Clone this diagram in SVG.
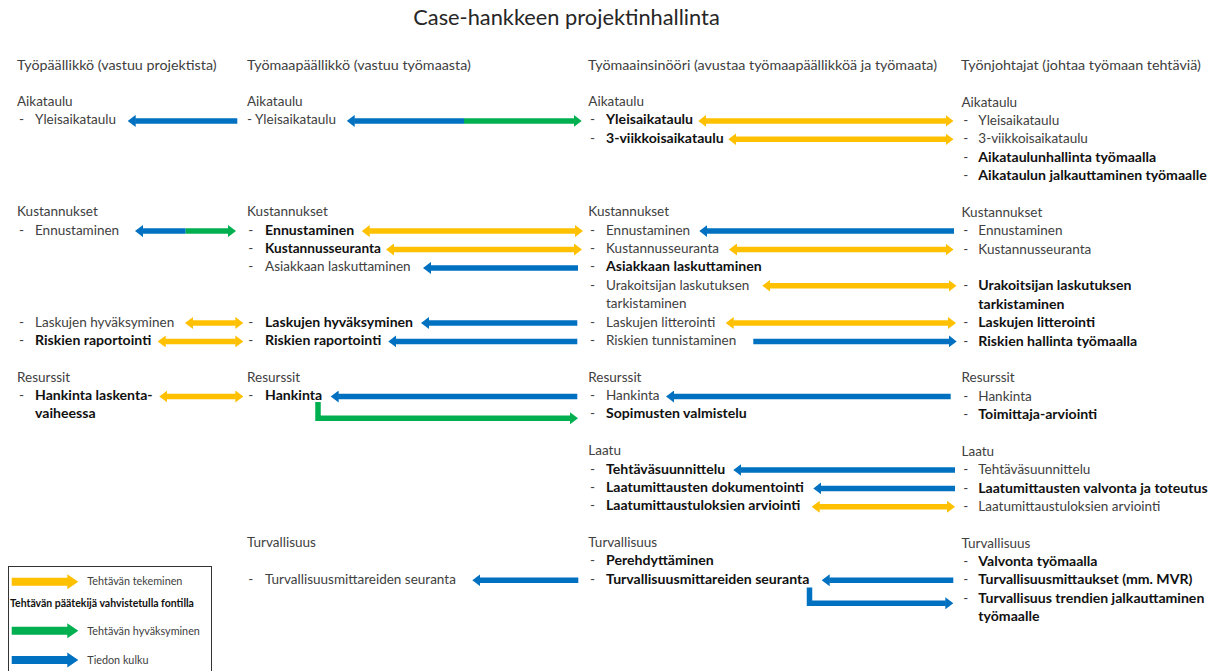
<svg xmlns="http://www.w3.org/2000/svg" width="1225" height="671" viewBox="0 0 1225 671">
<style>
text{font-family:Lato,"Liberation Sans",sans-serif;font-size:13.5px;fill:#404040}
.b{font-weight:bold;fill:#111;font-size:14.1px}
.h{font-size:14.3px}
.title{font-size:21.8px;fill:#262626}
.lg{font-size:10.8px}
.lgb{font-size:10.5px;font-weight:bold;fill:#111}
.cy{stroke:#FFC000;stroke-width:5.5;fill:none}
.cb{stroke:#0070C0;stroke-width:5.5;fill:none}
.cg{stroke:#00B050;stroke-width:5.5;fill:none}
.ay{marker-start:url(#hy);marker-end:url(#hy)}
.ab{marker-end:url(#hb)}
.ag{marker-end:url(#hg)}
.fy{fill:#FFC000}.fb{fill:#0070C0}.fg{fill:#00B050}
</style>
<defs>
<marker id="hy" viewBox="0 0 8 12" refX="0.5" refY="6" markerWidth="8" markerHeight="12" markerUnits="userSpaceOnUse" orient="auto-start-reverse"><path d="M0,0 L8,6 L0,12 Z" fill="#FFC000"/></marker>
<marker id="hb" viewBox="0 0 8 12" refX="0.5" refY="6" markerWidth="8" markerHeight="12" markerUnits="userSpaceOnUse" orient="auto-start-reverse"><path d="M0,0 L8,6 L0,12 Z" fill="#0070C0"/></marker>
<marker id="hg" viewBox="0 0 8 12" refX="0.5" refY="6" markerWidth="8" markerHeight="12" markerUnits="userSpaceOnUse" orient="auto-start-reverse"><path d="M0,0 L8,6 L0,12 Z" fill="#00B050"/></marker>
</defs>
<rect width="1225" height="671" fill="#fff"/>
<text class="title" x="566.5" y="25" text-anchor="middle">Case-hankkeen projektinhallinta</text>

<g id="col1">
<text class="h" x="17" y="70">Työpäällikkö (vastuu projektista)</text>
<g id="c1-aikataulu"><text x="17" y="106">Aikataulu</text><text x="19" y="124.4">-</text><text x="35" y="124.4">Yleisaikataulu</text></g>
<g id="c1-kustannukset"><text x="17" y="216.3">Kustannukset</text><text x="19" y="234.6">-</text><text x="35" y="234.6">Ennustaminen</text>
<text x="19" y="326.5">-</text><text x="35" y="326.5">Laskujen hyväksyminen</text>
<text x="19" y="344.9">-</text><text class="b" x="35" y="344.9">Riskien raportointi</text></g>
<g id="c1-resurssit"><text x="17" y="381.6">Resurssit</text><text x="19" y="400">-</text><text class="b" x="35" y="400">Hankinta laskenta-</text><text class="b" x="35" y="418.4">vaiheessa</text></g>
</g>

<g id="col2">
<text class="h" x="247" y="70">Työmaapäällikkö (vastuu työmaasta)</text>
<g id="c2-aikataulu"><text x="247" y="106">Aikataulu</text><text x="247" y="124.4">- Yleisaikataulu</text></g>
<g id="c2-kustannukset"><text x="247" y="216.3">Kustannukset</text>
<text x="248.3" y="234.6">-</text><text class="b" x="265" y="234.6">Ennustaminen</text>
<text x="248.3" y="253">-</text><text class="b" x="265" y="253" textLength="116" lengthAdjust="spacingAndGlyphs">Kustannusseuranta</text>
<text x="248.3" y="271.4">-</text><text x="265" y="271.4">Asiakkaan laskuttaminen</text>
<text x="248.3" y="326.5">-</text><text class="b" x="265" y="326.5">Laskujen hyväksyminen</text>
<text x="248.3" y="344.9">-</text><text class="b" x="265" y="344.9">Riskien raportointi</text></g>
<g id="c2-resurssit"><text x="247" y="381.6">Resurssit</text><text x="248.3" y="400">-</text><text class="b" x="265" y="400">Hankinta</text></g>
<g id="c2-turvallisuus"><text x="247" y="547">Turvallisuus</text><text x="248.3" y="583.8">-</text><text x="265" y="583.8">Turvallisuusmittareiden seuranta</text></g>
</g>

<g id="col3">
<text class="h" x="588" y="70">Työmaainsinööri (avustaa työmaapäällikköä ja työmaata)</text>
<g id="c3-aikataulu"><text x="588.3" y="106">Aikataulu</text>
<text x="590" y="124.4">-</text><text class="b" x="606" y="124.4">Yleisaikataulu</text>
<text x="590" y="142.8">-</text><text class="b" x="606" y="142.8">3-viikkoisaikataulu</text></g>
<g id="c3-kustannukset"><text x="588.3" y="216.3">Kustannukset</text>
<text x="590" y="234.6">-</text><text x="606" y="234.6">Ennustaminen</text>
<text x="590" y="253">-</text><text x="606" y="253">Kustannusseuranta</text>
<text x="590" y="271.4">-</text><text class="b" x="606" y="271.4">Asiakkaan laskuttaminen</text>
<text x="590" y="289.8">-</text><text x="606" y="289.8">Urakoitsijan laskutuksen</text><text x="606" y="308.1">tarkistaminen</text>
<text x="590" y="326.5">-</text><text x="606" y="326.5">Laskujen litterointi</text>
<text x="590" y="344.9">-</text><text x="606" y="344.9">Riskien tunnistaminen</text></g>
<g id="c3-resurssit"><text x="588.3" y="381.6">Resurssit</text>
<text x="590" y="400">-</text><text x="606" y="400">Hankinta</text>
<text x="590" y="418.4">-</text><text class="b" x="606" y="418.4">Sopimusten valmistelu</text></g>
<g id="c3-laatu"><text x="588.3" y="455.1">Laatu</text>
<text x="590" y="473.5">-</text><text class="b" x="606" y="473.5">Tehtäväsuunnittelu</text>
<text x="590" y="491.9">-</text><text class="b" x="606" y="491.9">Laatumittausten dokumentointi</text>
<text x="590" y="510.3">-</text><text class="b" x="606" y="510.3">Laatumittaustuloksien arviointi</text></g>
<g id="c3-turvallisuus"><text x="588.3" y="547">Turvallisuus</text>
<text x="590" y="565.4">-</text><text class="b" x="606" y="565.4">Perehdyttäminen</text>
<text x="590" y="583.8">-</text><text class="b" x="606" y="583.8">Turvallisuusmittareiden seuranta</text></g>
</g>

<g id="col4">
<text class="h" x="961" y="70">Työnjohtajat (johtaa työmaan tehtäviä)</text>
<g id="c4-aikataulu"><text x="961.5" y="106.6">Aikataulu</text>
<text x="963.3" y="125">-</text><text x="978.3" y="125">Yleisaikataulu</text>
<text x="963.3" y="143.4">-</text><text x="978.3" y="143.4">3-viikkoisaikataulu</text>
<text x="963.3" y="161.7">-</text><text class="b" x="978.3" y="161.7">Aikataulunhallinta työmaalla</text>
<text x="963.3" y="180.1">-</text><text class="b" x="978.3" y="180.1">Aikataulun jalkauttaminen työmaalle</text></g>
<g id="c4-kustannukset"><text x="961.5" y="216.9">Kustannukset</text>
<text x="963.3" y="235.2">-</text><text x="978.3" y="235.2">Ennustaminen</text>
<text x="963.3" y="253.6">-</text><text x="978.3" y="253.6">Kustannusseuranta</text>
<text x="963.3" y="290.4">-</text><text class="b" x="978.3" y="290.4">Urakoitsijan laskutuksen</text><text class="b" x="978.3" y="308.7">tarkistaminen</text>
<text x="963.3" y="327.1">-</text><text class="b" x="978.3" y="327.1">Laskujen litterointi</text>
<text x="963.3" y="345.5">-</text><text class="b" x="978.3" y="345.5">Riskien hallinta työmaalla</text></g>
<g id="c4-resurssit"><text x="961.5" y="382.2">Resurssit</text>
<text x="963.3" y="400.6">-</text><text x="978.3" y="400.6">Hankinta</text>
<text x="963.3" y="419">-</text><text class="b" x="978.3" y="419">Toimittaja-arviointi</text></g>
<g id="c4-laatu"><text x="961.5" y="455.7">Laatu</text>
<text x="963.3" y="474.1">-</text><text x="978.3" y="474.1">Tehtäväsuunnittelu</text>
<text x="963.3" y="492.5">-</text><text class="b" x="978.3" y="492.5">Laatumittausten valvonta ja toteutus</text>
<text x="963.3" y="510.9">-</text><text x="978.3" y="510.9">Laatumittaustuloksien arviointi</text></g>
<g id="c4-turvallisuus"><text x="961.5" y="547.6">Turvallisuus</text>
<text x="963.3" y="566">-</text><text class="b" x="978.3" y="566">Valvonta työmaalla</text>
<text x="963.3" y="584.4">-</text><text class="b" x="978.3" y="584.4">Turvallisuusmittaukset (mm. MVR)</text>
<text x="963.3" y="602.7">-</text><text class="b" x="978.3" y="602.7">Turvallisuus trendien jalkauttaminen</text><text class="b" x="978.3" y="621.1">työmaalle</text></g>
</g>

<g id="connectors">
<line class="cb ab" x1="237.3" y1="120.9" x2="135.2" y2="120.9"/>
<line class="cb ab" x1="464" y1="120.9" x2="354.2" y2="120.9"/>
<line class="cg ag" x1="464" y1="120.9" x2="574.2" y2="120.9"/>
<line class="cb ab" x1="185.7" y1="231.1" x2="142.5" y2="231.1"/>
<line class="cg ag" x1="185.7" y1="231.1" x2="228.5" y2="231.1"/>
<line class="cy ay" x1="369.2" y1="231.1" x2="575.5" y2="231.1"/>
<line class="cy ay" x1="393.5" y1="249.5" x2="574.5" y2="249.5"/>
<line class="cb ab" x1="578" y1="267.9" x2="430.5" y2="267.9"/>
<line class="cy ay" x1="192.5" y1="323" x2="235.8" y2="323"/>
<line class="cy ay" x1="165.2" y1="341.4" x2="235.8" y2="341.4"/>
<line class="cy ay" x1="166.8" y1="396.5" x2="235.8" y2="396.5"/>
<line class="cb ab" x1="577.3" y1="323" x2="428.5" y2="323"/>
<line class="cb ab" x1="577.3" y1="341.4" x2="395.8" y2="341.4"/>
<line class="cb ab" x1="577.3" y1="396.5" x2="338.2" y2="396.5"/>
<polyline class="cg ag" points="318,402 318,418.3 570.5,418.3" style="stroke-linejoin:miter"/>
<line class="cy ay" x1="705.8" y1="120.9" x2="946" y2="120.9"/>
<line class="cy ay" x1="735.8" y1="139.3" x2="946" y2="139.3"/>
<line class="cb ab" x1="954" y1="231.1" x2="706.8" y2="231.1"/>
<line class="cy ay" x1="736.5" y1="249.5" x2="946" y2="249.5"/>
<line class="cy ay" x1="769.8" y1="285.8" x2="949" y2="285.8"/>
<line class="cy ay" x1="733.2" y1="323" x2="948.5" y2="323"/>
<line class="cb ab" x1="753.3" y1="341.4" x2="949.2" y2="341.4"/>
<line class="cb ab" x1="950.7" y1="396.5" x2="673.5" y2="396.5"/>
<line class="cb ab" x1="955" y1="470" x2="740.8" y2="470"/>
<line class="cb ab" x1="955" y1="488.4" x2="820.8" y2="488.4"/>
<line class="cy ay" x1="819.2" y1="506.8" x2="947.5" y2="506.8"/>
<line class="cb ab" x1="953.3" y1="580.3" x2="829.2" y2="580.3"/>
<polyline class="cb ab" points="809.5,587.5 809.5,603.3 945.8,603.3" style="stroke-linejoin:miter"/>
<line class="cb ab" x1="578.3" y1="580.3" x2="479.8" y2="580.3"/>
</g>

<g id="legend">
<rect x="8.5" y="566.5" width="203" height="120" fill="none" stroke="#333" stroke-width="1"/>
<path class="fy" d="M11.7,577.7 H67.3 V574.2 L78.3,581.7 L67.3,589.2 V585.7 H11.7 Z"/>
<text class="lg" x="87.3" y="584.5">Tehtävän tekeminen</text>
<text class="lgb" x="10" y="607">Tehtävän päätekijä vahvistetulla fontilla</text>
<path class="fg" d="M11.7,626.7 H67.3 V623.2 L78.3,630.7 L67.3,638.2 V634.7 H11.7 Z"/>
<text class="lg" x="87.3" y="634.5">Tehtävän hyväksyminen</text>
<path class="fb" d="M11.7,656 H67.3 V652.5 L78.3,660 L67.3,667.5 V664 H11.7 Z"/>
<text class="lg" x="87.3" y="663.8">Tiedon kulku</text>
</g>
</svg>
